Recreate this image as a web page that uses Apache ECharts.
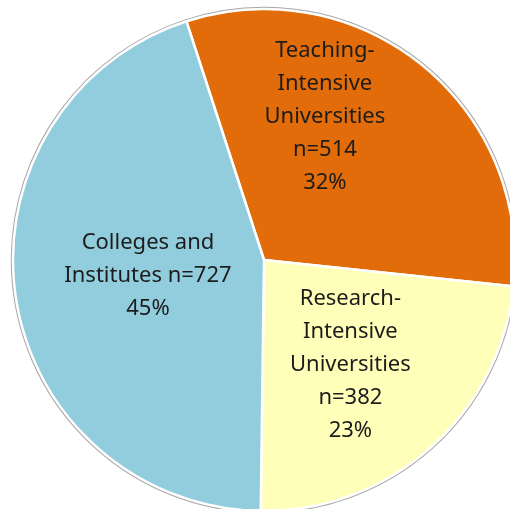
<!DOCTYPE html>
<html>
<head>
<meta charset="utf-8">
<script src="https://cdn.jsdelivr.net/npm/echarts@6/dist/echarts.min.js"></script>
<style>html,body{margin:0;padding:0;background:#fff;}#c{width:510px;height:509px;}</style>
</head>
<body>
<div id="c"></div>
<script>
const categories = ['Teaching-\nIntensive\nUniversities', 'Research-\nIntensive\nUniversities', 'Colleges and\nInstitutes'];
const counts = [514, 382, 727];
const percentLabels = ['32%', '23%', '45%'];
const colors = ['#E36C0A', '#FFFFB9', '#92CDDD'];
const labelOffsets = [[-20, -43], [1, 9], [11, -4]];

const chart = echarts.init(document.getElementById('c'), null, {renderer: 'canvas'});
function labelText(i) {
  if (i === 2) return 'Colleges and\nInstitutes n=' + counts[i] + '\n' + percentLabels[i];
  return categories[i] + '\nn=' + counts[i] + '\n' + percentLabels[i];
}
const baseData = counts.map((v, i) => ({
  value: v, name: categories[i],
  itemStyle: {color: colors[i]}
}));
const topData = counts.map((v, i) => ({
  value: v, name: categories[i],
  itemStyle: {color: colors[i]},
  label: {offset: labelOffsets[i]}
}));
chart.setOption({
  animation: false,
  series: [
    {
      type: 'pie', center: [264, 260], radius: [0, 251], startAngle: 108, clockwise: true,
      silent: true, label: {show: false}, labelLine: {show: false},
      itemStyle: {borderColor: '#a8a8a8', borderWidth: 4.5},
      data: baseData
    },
    {
      type: 'pie', center: [264, 260], radius: [0, 251], startAngle: 108, clockwise: true,
      itemStyle: {borderColor: '#ffffff', borderWidth: 2.5},
      label: {
        show: true, position: 'inside',
        formatter: p => labelText(p.dataIndex),
        fontFamily: 'Noto Sans', fontSize: 22, lineHeight: 33, color: '#1c1c1c', align: 'center'
      },
      labelLine: {show: false},
      data: topData
    }
  ]
});
</script>
</body>
</html>
